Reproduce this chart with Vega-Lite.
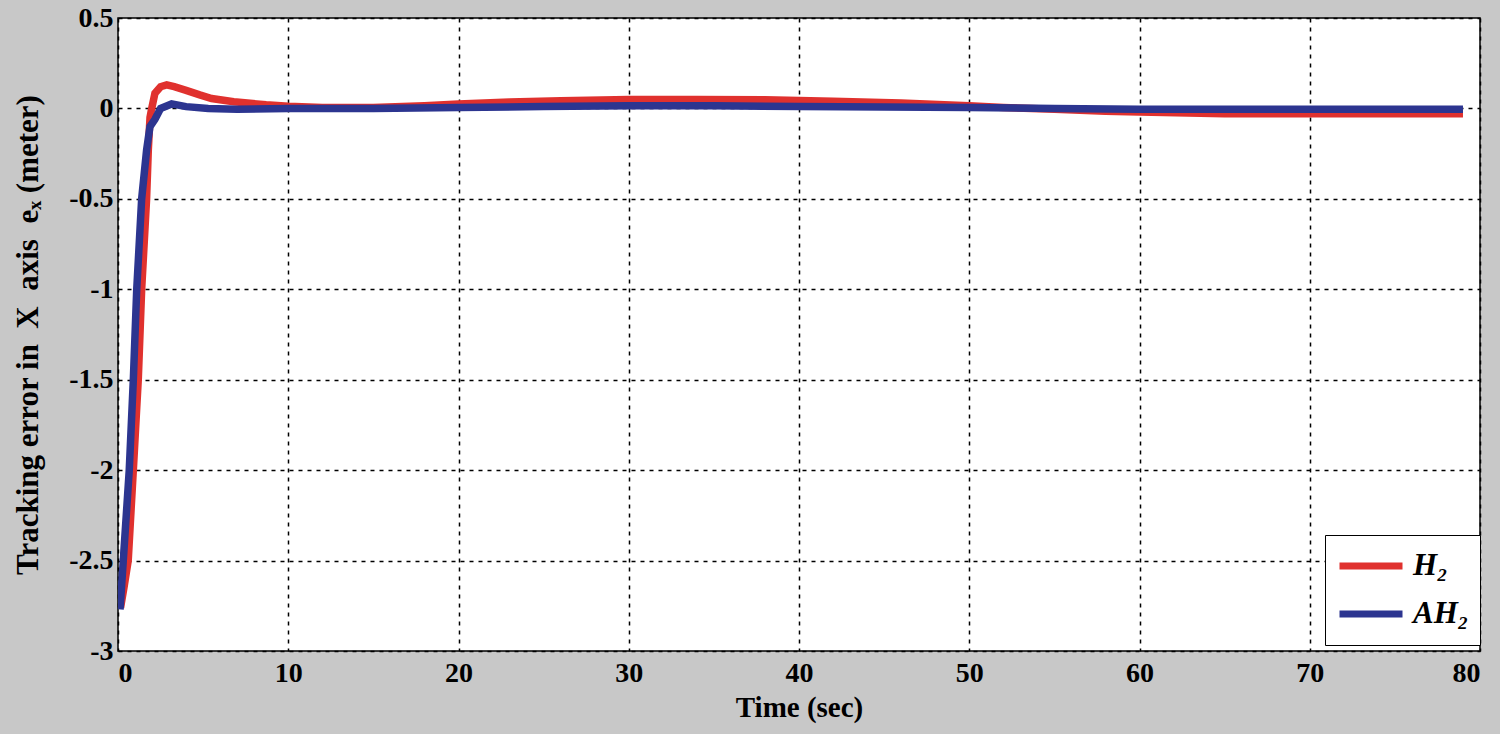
{
  "$schema": "https://vega.github.io/schema/vega-lite/v6.json",
  "autosize": {"type": "none"},
  "width": 1362,
  "height": 633,
  "padding": {"left": 118, "top": 18, "right": 20, "bottom": 83},
  "background": "#c8c8c8",
  "config": {
    "view": {"fill": "white", "stroke": "black", "strokeWidth": 1.5},
    "axis": {
      "labelFont": "Liberation Serif", "labelFontWeight": "bold", "labelFontSize": 28, "labelColor": "black",
      "titleFont": "Liberation Serif", "titleFontWeight": "bold", "titleFontSize": 29, "titleColor": "black",
      "grid": true, "gridColor": "black", "gridDash": [4, 5], "gridWidth": 1.5, "gridOpacity": 1,
      "ticks": false, "domain": false,
      "labelExpr": "replace(format(datum.value, '~g'), '−', '-')"
    }
  },
  "data": {"values": [
    {"t": 0.15, "e": -2.76, "s": "H₂"}, {"t": 0.35, "e": -2.65, "s": "H₂"}, {"t": 0.6, "e": -2.5, "s": "H₂"},
    {"t": 0.9, "e": -2.0, "s": "H₂"}, {"t": 1.19, "e": -1.5, "s": "H₂"}, {"t": 1.39, "e": -1.0, "s": "H₂"},
    {"t": 1.68, "e": -0.5, "s": "H₂"}, {"t": 1.78, "e": -0.23, "s": "H₂"}, {"t": 1.88, "e": -0.05, "s": "H₂"},
    {"t": 1.98, "e": 0.0, "s": "H₂"}, {"t": 2.17, "e": 0.084, "s": "H₂"}, {"t": 2.5, "e": 0.12, "s": "H₂"},
    {"t": 2.86, "e": 0.13, "s": "H₂"}, {"t": 3.3, "e": 0.12, "s": "H₂"}, {"t": 4.0, "e": 0.1, "s": "H₂"},
    {"t": 4.8, "e": 0.075, "s": "H₂"}, {"t": 5.5, "e": 0.055, "s": "H₂"}, {"t": 6.8, "e": 0.037, "s": "H₂"},
    {"t": 8.7, "e": 0.02, "s": "H₂"}, {"t": 10, "e": 0.012, "s": "H₂"}, {"t": 12, "e": 0.005, "s": "H₂"},
    {"t": 15, "e": 0.005, "s": "H₂"}, {"t": 18, "e": 0.015, "s": "H₂"}, {"t": 20, "e": 0.025, "s": "H₂"},
    {"t": 23, "e": 0.035, "s": "H₂"}, {"t": 26, "e": 0.042, "s": "H₂"}, {"t": 30, "e": 0.05, "s": "H₂"},
    {"t": 34, "e": 0.05, "s": "H₂"}, {"t": 38, "e": 0.048, "s": "H₂"}, {"t": 42, "e": 0.04, "s": "H₂"},
    {"t": 46, "e": 0.03, "s": "H₂"}, {"t": 50, "e": 0.015, "s": "H₂"}, {"t": 52, "e": 0.005, "s": "H₂"},
    {"t": 55, "e": -0.005, "s": "H₂"}, {"t": 58, "e": -0.015, "s": "H₂"}, {"t": 60, "e": -0.02, "s": "H₂"},
    {"t": 65, "e": -0.03, "s": "H₂"}, {"t": 70, "e": -0.03, "s": "H₂"}, {"t": 75, "e": -0.03, "s": "H₂"},
    {"t": 79, "e": -0.03, "s": "H₂"},
    {"t": 0.12, "e": -2.77, "s": "AH₂"}, {"t": 0.31, "e": -2.5, "s": "AH₂"}, {"t": 0.66, "e": -2.0, "s": "AH₂"},
    {"t": 0.9, "e": -1.5, "s": "AH₂"}, {"t": 1.1, "e": -1.0, "s": "AH₂"}, {"t": 1.39, "e": -0.5, "s": "AH₂"},
    {"t": 1.68, "e": -0.23, "s": "AH₂"}, {"t": 1.88, "e": -0.1, "s": "AH₂"}, {"t": 2.17, "e": -0.06, "s": "AH₂"},
    {"t": 2.5, "e": 0.0, "s": "AH₂"}, {"t": 3.15, "e": 0.025, "s": "AH₂"}, {"t": 4.0, "e": 0.01, "s": "AH₂"},
    {"t": 5.3, "e": 0.0, "s": "AH₂"}, {"t": 7, "e": -0.005, "s": "AH₂"}, {"t": 10, "e": 0.0, "s": "AH₂"},
    {"t": 15, "e": 0.0, "s": "AH₂"}, {"t": 20, "e": 0.005, "s": "AH₂"}, {"t": 25, "e": 0.01, "s": "AH₂"},
    {"t": 30, "e": 0.015, "s": "AH₂"}, {"t": 35, "e": 0.015, "s": "AH₂"}, {"t": 40, "e": 0.01, "s": "AH₂"},
    {"t": 45, "e": 0.008, "s": "AH₂"}, {"t": 50, "e": 0.005, "s": "AH₂"}, {"t": 55, "e": 0.0, "s": "AH₂"},
    {"t": 60, "e": -0.005, "s": "AH₂"}, {"t": 70, "e": -0.005, "s": "AH₂"}, {"t": 79, "e": -0.005, "s": "AH₂"}
  ]},
  "encoding": {
    "x": {"field": "t", "type": "quantitative", "scale": {"domain": [0, 80], "nice": false, "zero": false},
      "axis": {"values": [0, 10, 20, 30, 40, 50, 60, 70, 80], "title": "Time (sec)", "labelPadding": 8, "titlePadding": 6}},
    "y": {"field": "e", "type": "quantitative", "scale": {"domain": [-3, 0.5], "nice": false, "zero": false},
      "axis": {"values": [-3, -2.5, -2, -1.5, -1, -0.5, 0, 0.5], "title": "Tracking error in\u00a0\u00a0X\u00a0\u00a0axis\u00a0\u00a0eₓ (meter)", "titleFontSize": 31, "labelPadding": 5, "titlePadding": 24}},
    "color": {"field": "s", "type": "nominal",
      "scale": {"domain": ["H₂", "AH₂"], "range": ["#e0312e", "#2c3590"]},
      "legend": {"title": null, "orient": "none", "legendX": 1207, "legendY": 517,
        "fillColor": "white", "strokeColor": "black", "padding": 11,
        "symbolType": "stroke", "symbolSize": 3969, "symbolStrokeWidth": 7, "clipHeight": 40,
        "labelFont": "Liberation Serif", "labelFontWeight": "bold", "labelFontStyle": "italic", "labelFontSize": 31, "labelColor": "black",
        "rowPadding": 8, "labelOffset": 7}}
  },
  "layer": [
    {"transform": [{"filter": "datum.s === 'H₂'"}], "mark": {"type": "line", "strokeWidth": 7.5, "clip": true}},
    {"transform": [{"filter": "datum.s === 'AH₂'"}], "mark": {"type": "line", "strokeWidth": 7.5, "clip": true}}
  ]
}
